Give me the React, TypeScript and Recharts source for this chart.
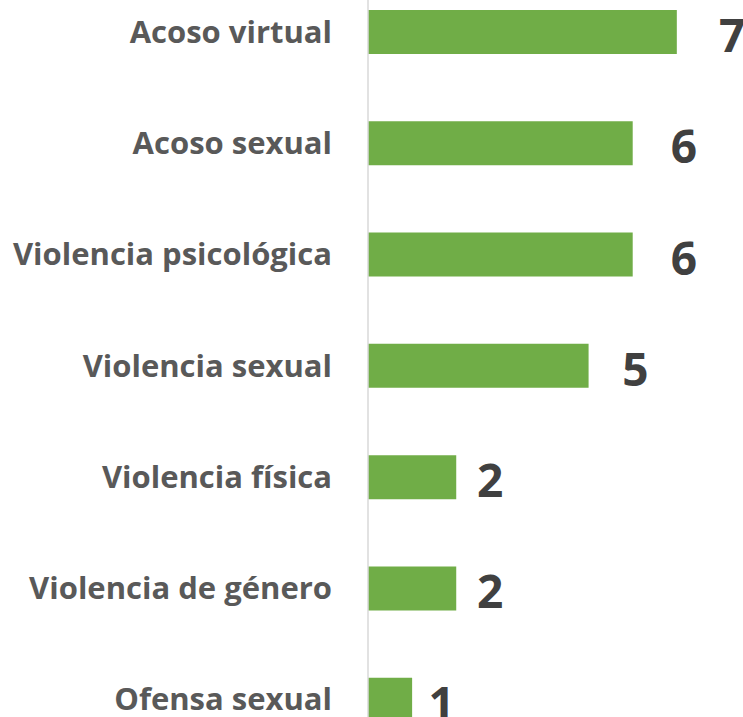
import React from 'react';
import { BarChart, Bar, XAxis, YAxis, LabelList } from 'recharts';

const categories = [
  'Acoso virtual',
  'Acoso sexual',
  'Violencia psicológica',
  'Violencia sexual',
  'Violencia física',
  'Violencia de género',
  'Ofensa sexual',
];
const casos = [7, 6, 6, 5, 2, 2, 1];

const FONT = '"Open Sans", Lato, sans-serif';

// the value labels sit a bit further out on the longer bars
const ValueLabel = (props: any) => {
  const { x, y, width, height, value } = props;
  const gap = 12 + width * 0.098;
  return (
    <text
      x={x + width + gap}
      y={y + height / 2 + 2}
      fill="#404040"
      fontSize={46}
      fontWeight={700}
      fontFamily={FONT}
      dominantBaseline="central"
    >
      {value}
    </text>
  );
};

const App: React.FC = () => {
  const data = categories.map((name, i) => ({ name, casos: casos[i] }));

  return (
    <div style={{ position: 'absolute', left: 0, top: -24, background: '#ffffff' }}>
      <BarChart
        width={743}
        height={779}
        layout="vertical"
        data={data}
        margin={{ top: 0, right: 0, left: 0, bottom: 0 }}
      >
        <XAxis type="number" domain={[0, 8.5]} hide />
        <YAxis
          dataKey="name"
          type="category"
          width={368}
          axisLine={{ stroke: '#d9d9d9', strokeWidth: 1.5 }}
          tickLine={false}
          tickMargin={30}
          tick={{ fill: '#595959', fontSize: 31, fontWeight: 700, fontFamily: FONT }}
        />
        <Bar dataKey="casos" fill="#70ad47" barSize={44} isAnimationActive={false}>
          <LabelList dataKey="casos" content={ValueLabel} />
        </Bar>
      </BarChart>
    </div>
  );
};

export default App;
